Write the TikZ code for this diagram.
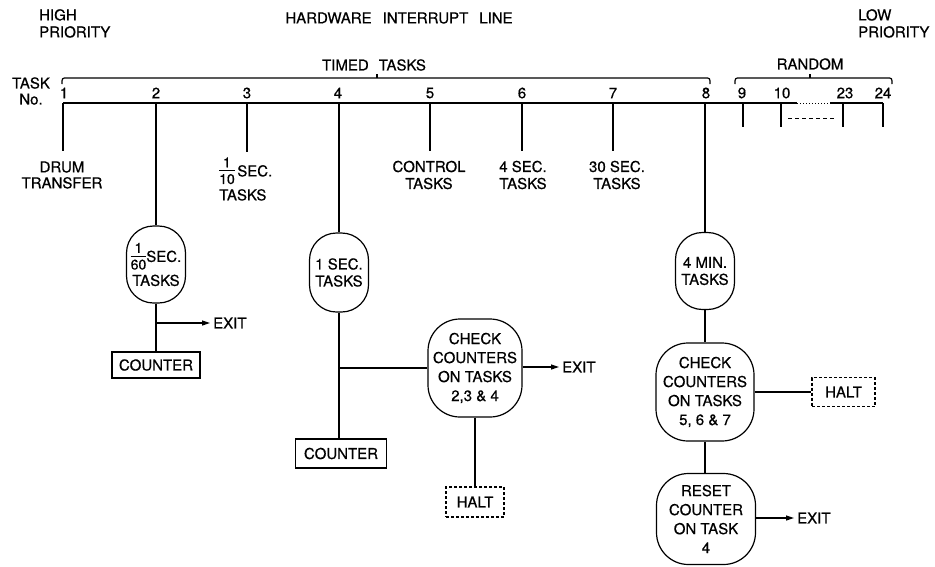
\documentclass[tikz,border=0pt]{standalone}
\usepackage{fontspec}
\setmainfont{TeX Gyre Heros}[UprightFeatures={FakeBold=0.6}]
\usetikzlibrary{arrows.meta}
\newcommand\myfrac[2]{{\fontsize{14}{14}\selectfont\setlength\tabcolsep{0pt}\setlength\arrayrulewidth{1pt}\renewcommand\arraystretch{1}\begin{tabular}[c]{c}#1\\[-1pt]\hline\rule{0pt}{12.5pt}#2\end{tabular}}}
\begin{document}
\begin{tikzpicture}[x=1pt,y=-1pt,
  font=\fontsize{15}{17}\selectfont,
  ln/.style={line width=1.2pt},
  bus/.style={line width=2.3pt},
  oval/.style={draw, line width=1.2pt, rounded corners=27pt, minimum width=59pt, minimum height=77pt, inner sep=0pt, align=center},
  bigoval/.style={draw, line width=1.2pt, rounded corners=32pt, inner sep=0pt, align=center, minimum width=96pt, minimum height=98pt, font=\fontsize{15}{19}\selectfont},
  rbox/.style={draw, line width=1.2pt, inner sep=0pt, minimum height=28pt},
  dbox/.style={rbox, dash pattern=on 3pt off 2pt},
  lbl/.style={inner sep=0pt},
  arr/.style={ln, -{Triangle[length=8pt,width=5pt]}, shorten >=3pt},
]
\useasboundingbox (0,0) rectangle (935,566);

% headings
\node[lbl, anchor=north west, align=left] (high) at (39,9) {HIGH\\PRIORITY};
\node[lbl] (hw) at (399,18) {HARDWARE\hspace{11pt}INTERRUPT\hspace{11pt}LINE};
\node[lbl, anchor=north west, align=left] (low) at (858,9) {LOW\\PRIORITY};
\node[lbl] (timed) at (374,65) {TIMED\hspace{10pt}TASKS};
\node[lbl] (random) at (810,64) {RANDOM};
\node[lbl, align=center, font=\fontsize{15}{16}\selectfont] (taskno) at (31,91) {TASK\\No.};

% braces
\draw[ln] (62,84) .. controls (62,78) .. (67,78) -- (705,78) .. controls (710,78) .. (710,84);
\draw[ln] (377,78) -- (377,74);
\draw[ln] (735,84) .. controls (735,78) .. (740,78) -- (887,78) .. controls (892,78) .. (892,84);
\draw[ln] (810,78) -- (810,74);

% task coordinates on the interrupt line
\foreach \n/\x in {1/63,2/156,3/247,4/339,5/430,6/522,7/613,8/705,9/743,10/781,23/843,24/883}
  \coordinate (t\n) at (\x,103);
\coordinate (g1) at (797,103);
\coordinate (g2) at (830,103);
\draw[bus] (t1) -- (g1);
\draw[line width=1pt, dotted] (g1) -- (g2);
\draw[bus] (g2) -- (t24);

% task numbers
\foreach \n/\x in {1/64,2/156,3/247,4/338,5/430,6/522,7/613,8/706,9/742,10/782,23/845,24/883}
  \node[lbl] (n\n) at (\x,93) {\n};

% short task lines
\foreach \n/\y in {1/151,3/152,5/151,6/151,7/151,9/127,10/127,23/127,24/127}{
  \coordinate (e\n) at (t\n |- 0,\y);
  \draw[ln] (t\n) -- (e\n);
}
\coordinate (d1) at (788,118);
\coordinate (d2) at (835,118);
\draw[line width=0.9pt, dash pattern=on 4pt off 3pt] (d1) -- (d2);

% labels under short lines
\node[lbl, align=center, font=\fontsize{15}{16}\selectfont] (drum) at (62,175) {DRUM\\TRANSFER};
\node[lbl, align=left, anchor=west, font=\fontsize{15}{16}\selectfont] (l3) at (219,179) {\myfrac{1}{10}\,SEC.\\TASKS};
\node[lbl, align=center] (l5) at (429,175) {CONTROL\\TASKS};
\node[lbl, align=center] (l6) at (523,175) {4 SEC.\\TASKS};
\node[lbl, align=center] (l7) at (617,175) {30 SEC.\\TASKS};

% column 2
\node[oval] (o2) at (156,264.5) {\myfrac{1}{60}SEC.\\TASKS};
\coordinate (x2) at (156,323);
\node[lbl, anchor=west] (exit2) at (213,323) {EXIT};
\node[rbox, minimum width=88pt, minimum height=26pt] (c2) at (156,365) {COUNTER};
\draw[ln] (t2) -- (o2);
\draw[ln] (o2) -- (c2);
\draw[arr] (x2) -- (exit2.west);

% column 4
\node[oval, minimum height=79pt] (o4) at (339,272.5) {1 SEC.\\TASKS};
\node[bigoval, minimum width=94pt] (k4) at (475,368) {CHECK\\COUNTERS\\ON TASKS\\2,3 \& 4};
\coordinate (x4) at (339,368);
\node[rbox, minimum width=91pt, minimum height=29pt] (c4) at (341,453.5) {COUNTER};
\node[lbl, anchor=west] (exit4) at (562,367) {EXIT};
\node[dbox, minimum width=58pt, minimum height=30pt] (h4) at (475,502) {HALT};
\draw[ln] (t4) -- (o4);
\draw[ln] (o4) -- (o4.south |- c4.north);
\draw[ln] (x4) -- (k4.west);
\draw[arr] (k4.east |- exit4) -- (exit4.west);
\draw[ln] (k4) -- (h4);

% column 8
\node[oval] (o8) at (705,271) {4 MIN.\\TASKS};
\node[bigoval, minimum width=98pt] (k8) at (705,392) {CHECK\\COUNTERS\\ON TASKS\\5, 6 \& 7};
\node[dbox, minimum width=63pt, minimum height=29pt] (h8) at (843.5,392) {HALT};
\node[bigoval, minimum width=99pt, minimum height=91pt] (r8) at (706,519) {RESET\\COUNTER\\ON TASK\\4};
\node[lbl, anchor=west] (exit8) at (797,518) {EXIT};
\draw[ln] (t8) -- (o8);
\draw[ln] (o8) -- (k8);
\draw[ln] (k8) -- (k8 |- r8.north);
\draw[ln] (k8) -- (h8);
\draw[arr] (r8.east |- exit8) -- (exit8.west);
\end{tikzpicture}
\end{document}
